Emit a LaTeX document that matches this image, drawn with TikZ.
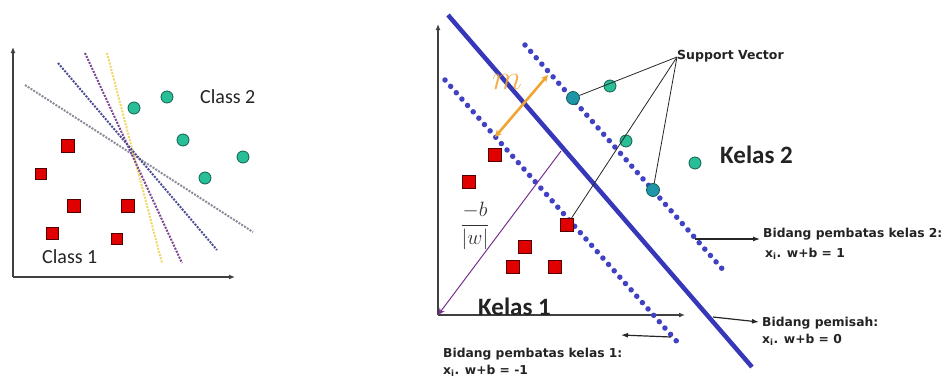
\documentclass[tikz,border=0pt]{standalone}
\usepackage{fontspec}
\setmainfont{Carlito}
\newfontfamily\vfont{DejaVu Sans}
\usetikzlibrary{arrows.meta}
\definecolor{tealc}{RGB}{40,190,150}
\definecolor{tealdark}{RGB}{20,95,80}
\definecolor{tealblue}{RGB}{30,150,170}
\definecolor{redc}{RGB}{225,0,0}
\definecolor{reddark}{RGB}{80,0,0}
\definecolor{svmblue}{RGB}{55,55,185}
\definecolor{dotblue}{RGB}{65,65,195}
\definecolor{orangec}{RGB}{240,165,50}
\definecolor{purplec}{RGB}{120,50,150}
\definecolor{lgray}{RGB}{140,140,155}
\definecolor{lblue}{RGB}{75,75,150}
\definecolor{lpurple}{RGB}{125,70,145}
\definecolor{lyellow}{RGB}{240,215,100}
\definecolor{txt}{RGB}{35,35,35}
\begin{document}
\begin{tikzpicture}[x=1pt,y=-1pt,
  dotc/.style={circle,draw=tealdark,fill=tealc,line width=0.8pt,minimum size=12pt,inner sep=0pt},
  svdot/.style={dotc,fill=tealblue,minimum size=13pt},
  sq/.style={rectangle,draw=reddark,fill=redc,line width=0.8pt,minimum size=13pt,inner sep=0pt},
  sqs/.style={sq,minimum size=11pt},
  axisline/.style={line width=1.3pt,draw=black!75,-{Latex[length=6pt,width=5pt]}},
  dashline/.style={line width=2pt,dash pattern=on 2pt off 1.3pt},
  dotline/.style={line width=5.5pt,draw=dotblue,line cap=round,dash pattern=on 0pt off 8.5pt},
  svline/.style={line width=0.8pt,draw=black!85},
  lblarrow/.style={line width=1.2pt,draw=black!85,-{Latex[length=7pt,width=5pt]}},
  bigtxt/.style={text=txt,inner sep=0pt},
  smalltxt/.style={text=txt,inner sep=0pt,anchor=base west,font=\vfont\bfseries\fontsize{12.3}{14}\selectfont}]
\useasboundingbox (0,0) rectangle (946,378);

% ---------- left panel ----------
\coordinate (lo) at (13,277);
\coordinate (ly) at (13,47);
\coordinate (lx) at (235,277);
\draw[axisline] (lo) -- (ly);
\draw[axisline] (lo) -- (lx);

\coordinate (g1) at (25,85);   \coordinate (g2) at (253,232);
\coordinate (b1) at (58,63);   \coordinate (b2) at (217,250);
\coordinate (p1) at (85,53);   \coordinate (p2) at (182,263);
\coordinate (y1) at (107,53);  \coordinate (y2) at (162,263);
\draw[dashline,draw=lgray] (g1) -- (g2);
\draw[dashline,draw=lyellow] (y1) -- (y2);
\draw[dashline,draw=lpurple] (p1) -- (p2);
\draw[dashline,draw=lblue] (b1) -- (b2);

\node[dotc] (lc1) at (134,108) {};
\node[dotc] (lc2) at (167,97) {};
\node[dotc] (lc3) at (183,140) {};
\node[dotc] (lc4) at (243,157) {};
\node[dotc] (lc5) at (205,178) {};

\node[sq] (ls1) at (68,146) {};
\node[sqs] (ls2) at (41,174) {};
\node[sq] (ls3) at (74,206) {};
\node[sq] (ls4) at (128,206) {};
\node[sqs,minimum size=12pt] (ls5) at (52,233) {};
\node[sqs] (ls6) at (117,239) {};

\node[bigtxt,anchor=base west,font=\fontsize{20}{22}\selectfont] (cl2) at (200,103) {Class 2};
\node[bigtxt,anchor=base west,font=\fontsize{20}{22}\selectfont] (cl1) at (42,263) {Class 1};

% ---------- right panel ----------
\coordinate (ro) at (438,315);
\coordinate (ry) at (438,24);
\coordinate (rx) at (685,315);
\draw[axisline] (ro) -- (ry);
\draw[axisline] (ro) -- (rx);

\coordinate (up1) at (525,45);  \coordinate (up2) at (725,272);
\coordinate (lw1) at (445,80);  \coordinate (lw2) at (680,345);
\coordinate (sl1) at (448,15);  \coordinate (sl2) at (752,367);
\draw[dotline] (up1) -- (up2);
\draw[dotline] (lw1) -- (lw2);
\draw[line width=4.5pt,draw=svmblue] (sl1) -- (sl2);

% -b/|w| vector
\coordinate (pv) at (561,151);
\draw[line width=1pt,draw=purplec,-{Stealth[length=7pt,width=6pt]}] (pv) -- (ro);

% margin arrow
\coordinate (m1) at (495,137);
\coordinate (m2) at (548,75);
\draw[line width=2.6pt,draw=orangec,{Stealth[length=7pt,width=7pt]}-{Stealth[length=7pt,width=7pt]}] (m1) -- (m2);
\node[text=orangec,opacity=0.85,inner sep=0pt,font=\fontsize{24.88}{28}\selectfont] (mlab) at (507,82) {\scalebox{1.4}{$m$}};

% points
\node[svdot] (sv1) at (573,98) {};
\node[dotc] (c2) at (610,86) {};
\node[dotc] (c3) at (626,141) {};
\node[svdot] (sv2) at (653,190) {};
\node[dotc] (c5) at (695,163) {};

\node[sq] (rs1) at (495,155) {};
\node[sq] (rs2) at (469,182) {};
\node[sq] (rs3) at (567,225) {};
\node[sq] (rs4) at (525,247) {};
\node[sq] (rs5) at (513,267) {};
\node[sq] (rs6) at (555,267) {};

% support vector label
\node[bigtxt,anchor=base west,font=\vfont\bfseries\fontsize{12.5}{14}\selectfont] (svl) at (677,59) {Support Vector};
\coordinate (svp) at (677,57);
\draw[svline] (svp) -- (sv1);
\draw[svline] (svp) -- (rs3);
\draw[svline] (svp) -- (sv2);

% -b/|w|
\node[text=black!80,inner sep=0pt,font=\fontsize{20.74}{24}\selectfont] (bw) at (475,226) {$\displaystyle\frac{-b}{|w|}$};

% class labels
\node[bigtxt,anchor=base west,font=\bfseries\fontsize{25}{28}\selectfont] (k1) at (478,315) {Kelas 1};
\node[bigtxt,anchor=base west,font=\bfseries\fontsize{25}{28}\selectfont] (k2) at (720,163) {Kelas 2};

% explanatory labels
\node[smalltxt] (t2a) at (763,237) {Bidang pembatas kelas 2:};
\node[smalltxt] (t2b) at (765,257) {x\textsubscript{i}. w+b = 1};
\node[smalltxt] (t0a) at (762,326) {Bidang pemisah:};
\node[smalltxt] (t0b) at (762,343) {x\textsubscript{i}. w+b = 0};
\node[smalltxt] (t1a) at (443,357) {Bidang pembatas kelas 1:};
\node[smalltxt] (t1b) at (443,374) {x\textsubscript{i}. w+b = -1};

\coordinate (a2s) at (695,239); \coordinate (a2e) at (760,239);
\coordinate (a0s) at (713,317); \coordinate (a0e) at (759,322);
\coordinate (a1s) at (671,337); \coordinate (a1e) at (621,335);
\draw[lblarrow] (a2s) -- (a2e);
\draw[lblarrow] (a0s) -- (a0e);
\draw[lblarrow] (a1s) -- (a1e);
\end{tikzpicture}
\end{document}
